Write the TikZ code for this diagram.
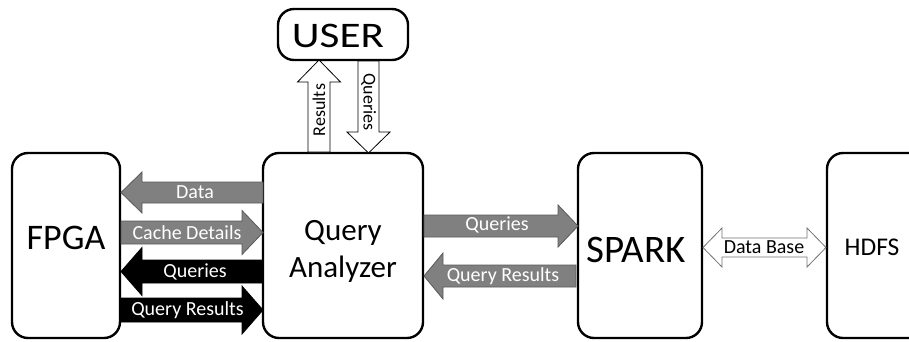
\documentclass[tikz,border=0pt]{standalone}
\usepackage{fontspec}
\setmainfont{Carlito}
\tikzset{
  x=1pt, y=-1pt,
  box/.style={draw=black, line width=2.4pt, rounded corners=16pt, fill=white},
  boxtext/.style={font=\fontsize{36}{40}\selectfont, align=center, inner sep=0pt},
  grayarrow/.style={fill=black!50, draw=black!65, line width=0.8pt},
  blackarrow/.style={fill=black, draw=black, line width=0.8pt},
  whitearrow/.style={fill=white, draw=black!55, line width=0.8pt},
  lbl/.style={font=\fontsize{20}{22}\selectfont, inner sep=0pt},
  wlbl/.style={lbl, text=white},
  vlbl/.style={lbl, font=\fontsize{18}{20}\selectfont},
}
% horizontal block arrow: style, tail x, head base x, tip x, yc, shaft half, head half
\newcommand\HBArrow[7]{%
  \filldraw[#1] (#2,#5-#6) -- (#3,#5-#6) -- (#3,#5-#7) -- (#4,#5) -- (#3,#5+#7)
    -- (#3,#5+#6) -- (#2,#5+#6) -- cycle;}
% vertical block arrow: style, xc, tail y, head base y, tip y, shaft half, head half
\newcommand\VBArrow[7]{%
  \filldraw[#1] (#2-#6,#3) -- (#2-#6,#4) -- (#2-#7,#4) -- (#2,#5) -- (#2+#7,#4)
    -- (#2+#6,#4) -- (#2+#6,#3) -- cycle;}
\begin{document}
\begin{tikzpicture}
\useasboundingbox[clip] (0,0) rectangle (909,341);
\fill[white] (0,0) rectangle (909,341);

% boxes
\draw[box] (12,153) rectangle (120,338);
\node[boxtext] (fpga) at (66,238) {FPGA};
\draw[box] (263,153) rectangle (423,338);
\node[boxtext, font=\fontsize{31}{37}\selectfont] (qa) at (343,251) {Query\\Analyzer};
\draw[box] (278,9) rectangle (408,60);
\node[boxtext, xscale=1.2] (user) at (338,36) {USER};
\draw[box] (578,153) rectangle (702,338);
\node[boxtext, font=\fontsize{39}{42}\selectfont] (spark) at (636,250) {SPARK};
\draw[box] (827,153) rectangle (940,338);
\node[boxtext, font=\fontsize{25.5}{28}\selectfont] (hdfs) at (872,247.5) {HDFS};

% USER <-> QA
\VBArrow{whitearrow, draw=black}{319}{152}{82}{60}{11}{21.5}
\node[vlbl, rotate=90] (res) at (319,110) {Results};
\VBArrow{whitearrow, draw=black}{368.5}{61}{132}{153}{10.5}{21.5}
\node[vlbl, rotate=-90] (qry) at (368.5,102) {Queries};

% FPGA <-> QA
\HBArrow{grayarrow}{263}{142}{121}{192.5}{10.5}{20.5}
\node[wlbl] (l1) at (195,192.5) {Data};
\HBArrow{grayarrow}{121}{242}{263}{232.5}{11.5}{22}
\node[wlbl] (l2) at (187,232.5) {Cache Details};
\HBArrow{blackarrow}{263}{142}{121}{271.5}{11.5}{24}
\node[wlbl] (l3) at (195,271.5) {Queries};
\HBArrow{blackarrow}{121}{242}{263}{310}{12}{24}
\node[wlbl] (l4) at (187.5,310) {Query Results};

% QA <-> SPARK
\HBArrow{grayarrow}{424}{558}{578}{226}{11}{21}
\node[wlbl] (l5) at (497,225) {Queries};
\HBArrow{grayarrow}{576}{443}{424}{276}{11}{23}
\node[wlbl] (l6) at (503,276) {Query Results};

% SPARK <-> HDFS
\filldraw[whitearrow] (703,247.5) -- (722,228) -- (722,238) -- (807,238) -- (807,228)
  -- (826,247.5) -- (807,267) -- (807,257) -- (722,257) -- (722,267) -- cycle;
\node[lbl] (l7) at (764,247) {Data Base};
\end{tikzpicture}
\end{document}
